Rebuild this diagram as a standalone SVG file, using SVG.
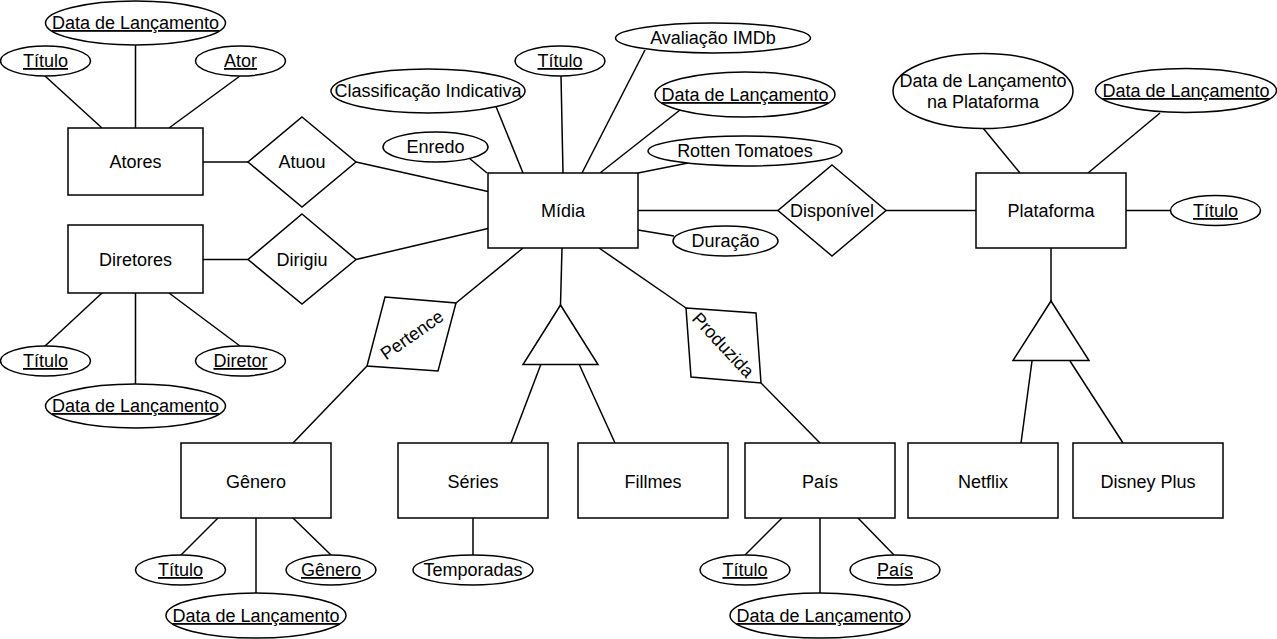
<svg xmlns="http://www.w3.org/2000/svg" width="1277" height="639" viewBox="0 0 1277 639">
<style>
.s{fill:#fff;stroke:#000;stroke-width:1.5}
.c line{stroke:#000;stroke-width:1.5}
text{font-family:"Liberation Sans",Arial,Helvetica,sans-serif;font-size:18px;fill:#000;text-anchor:middle}
.u{text-decoration:underline}
</style>
<rect width="1277" height="639" fill="#fff"/>
<g class="c" id="connectors">
<line x1="135.5" y1="45" x2="135.5" y2="128"/>
<line x1="45" y1="76" x2="102" y2="128"/>
<line x1="240" y1="76" x2="169" y2="128"/>
<line x1="102" y1="293" x2="45" y2="346"/>
<line x1="135.5" y1="293" x2="135.5" y2="384"/>
<line x1="169" y1="293" x2="240" y2="346"/>
<line x1="203" y1="162" x2="248" y2="162"/>
<line x1="203" y1="259.5" x2="248" y2="259.5"/>
<line x1="356" y1="162" x2="488" y2="191.5"/>
<line x1="356" y1="259.5" x2="488" y2="228.5"/>
<line x1="496" y1="106.5" x2="523" y2="173"/>
<line x1="561" y1="76" x2="563" y2="173"/>
<line x1="645" y1="50" x2="582" y2="173"/>
<line x1="680" y1="110" x2="600" y2="173"/>
<line x1="469" y1="158" x2="487" y2="173"/>
<line x1="688" y1="163" x2="638" y2="173"/>
<line x1="638" y1="230" x2="674" y2="236"/>
<line x1="638" y1="210.5" x2="778" y2="210.5"/>
<line x1="886" y1="210.5" x2="976" y2="210.5"/>
<line x1="983" y1="128" x2="1020" y2="173"/>
<line x1="1160" y1="113" x2="1088" y2="173"/>
<line x1="1126" y1="210.5" x2="1170" y2="210.5"/>
<line x1="1051" y1="248" x2="1051" y2="301"/>
<line x1="1032" y1="361" x2="1021" y2="443"/>
<line x1="1070" y1="361" x2="1123" y2="443"/>
<line x1="523" y1="248" x2="456" y2="303"/>
<line x1="367" y1="366" x2="293" y2="443"/>
<line x1="599" y1="248" x2="686" y2="308"/>
<line x1="761" y1="383" x2="820" y2="443"/>
<line x1="562" y1="248" x2="560.5" y2="305"/>
<line x1="541" y1="364" x2="511" y2="443"/>
<line x1="579" y1="364" x2="615" y2="443"/>
<line x1="218" y1="518" x2="181" y2="555"/>
<line x1="256" y1="518" x2="256" y2="593"/>
<line x1="293" y1="518" x2="331" y2="555"/>
<line x1="473" y1="518" x2="473" y2="555"/>
<line x1="782" y1="518" x2="745" y2="555"/>
<line x1="820" y1="518" x2="820" y2="593"/>
<line x1="858" y1="518" x2="894" y2="555"/>
</g>
<g id="atores"><rect class="s" x="68" y="128" width="135" height="67"/><text x="135.5" y="168">Atores</text></g>
<g id="diretores"><rect class="s" x="68" y="225" width="135" height="68"/><text x="135.5" y="266">Diretores</text></g>
<g id="midia"><rect class="s" x="488" y="173" width="150" height="75"/><text x="563" y="217">Mídia</text></g>
<g id="plataforma"><rect class="s" x="976" y="173" width="150" height="75"/><text x="1051" y="217">Plataforma</text></g>
<g id="genero"><rect class="s" x="181" y="443" width="150" height="75"/><text x="256" y="488">Gênero</text></g>
<g id="series"><rect class="s" x="398" y="443" width="150" height="75"/><text x="473" y="488">Séries</text></g>
<g id="fillmes"><rect class="s" x="578" y="443" width="150" height="75"/><text x="653" y="488">Fillmes</text></g>
<g id="pais"><rect class="s" x="745" y="443" width="150" height="75"/><text x="820" y="488">País</text></g>
<g id="netflix"><rect class="s" x="908" y="443" width="150" height="75"/><text x="983" y="488">Netflix</text></g>
<g id="disney"><rect class="s" x="1073" y="443" width="150" height="75"/><text x="1148" y="488">Disney Plus</text></g>
<g id="atuou"><polygon class="s" points="302,117 356,162 302,207 248,162"/><text x="302" y="168">Atuou</text></g>
<g id="dirigiu"><polygon class="s" points="302,214 356,259.5 302,304 248,259.5"/><text x="302" y="266">Dirigiu</text></g>
<g id="disponivel"><polygon class="s" points="832,165 886,210.5 832,256 778,210.5"/><text x="832" y="217">Disponível</text></g>
<g id="pertence"><polygon class="s" points="385,297 456,303 438,371 367,366"/><text transform="translate(412,335) rotate(-35)" y="6">Pertence</text></g>
<g id="produzida"><polygon class="s" points="686,308 756,313 761,383 691,377" /><text transform="translate(723,345) rotate(47)" y="6">Produzida</text></g>
<g id="heranca-midia"><polygon class="s" points="560.5,305 598,364.5 523,364.5"/></g>
<g id="heranca-plataforma"><polygon class="s" points="1051,301 1089,360.5 1013,360.5"/></g>
<g id="a-atores-data"><ellipse class="s" cx="135.5" cy="23" rx="90" ry="22"/><text class="u" x="135.5" y="29">Data de Lançamento</text></g>
<g id="a-atores-titulo"><ellipse class="s" cx="45.5" cy="61" rx="45" ry="15"/><text class="u" x="45.5" y="67">Título</text></g>
<g id="a-atores-ator"><ellipse class="s" cx="240.5" cy="61" rx="45" ry="15"/><text class="u" x="240.5" y="67">Ator</text></g>
<g id="a-dir-titulo"><ellipse class="s" cx="45.5" cy="361" rx="45" ry="15"/><text class="u" x="45.5" y="367">Título</text></g>
<g id="a-dir-data"><ellipse class="s" cx="135.5" cy="406" rx="90" ry="22"/><text class="u" x="135.5" y="412">Data de Lançamento</text></g>
<g id="a-dir-diretor"><ellipse class="s" cx="240.5" cy="361" rx="45" ry="15"/><text class="u" x="240.5" y="367">Diretor</text></g>
<g id="a-midia-class"><ellipse class="s" cx="428" cy="91" rx="97" ry="22"/><text x="428" y="97">Classificação Indicativa</text></g>
<g id="a-midia-titulo"><ellipse class="s" cx="560" cy="61" rx="45" ry="15"/><text class="u" x="560" y="67">Título</text></g>
<g id="a-midia-imdb"><ellipse class="s" cx="713" cy="38" rx="97.5" ry="15"/><text x="713" y="44">Avaliação IMDb</text></g>
<g id="a-midia-data"><ellipse class="s" cx="745" cy="94.5" rx="90" ry="22.5"/><text class="u" x="745" y="101">Data de Lançamento</text></g>
<g id="a-midia-enredo"><ellipse class="s" cx="435.5" cy="147" rx="52.5" ry="15"/><text x="435.5" y="153">Enredo</text></g>
<g id="a-midia-rotten"><ellipse class="s" cx="745" cy="151" rx="97" ry="15"/><text x="745" y="157">Rotten Tomatoes</text></g>
<g id="a-midia-duracao"><ellipse class="s" cx="725.5" cy="241" rx="52.5" ry="15"/><text x="725.5" y="247">Duração</text></g>
<g id="a-plat-datanaplat"><ellipse class="s" cx="983" cy="91" rx="90" ry="37.5"/><text x="983" y="87">Data de Lançamento</text><text x="983" y="108">na Plataforma</text></g>
<g id="a-plat-data"><ellipse class="s" cx="1186" cy="90.5" rx="90.5" ry="22"/><text class="u" x="1186" y="97">Data de Lançamento</text></g>
<g id="a-plat-titulo"><ellipse class="s" cx="1215.5" cy="210.5" rx="45" ry="15"/><text class="u" x="1215.5" y="217">Título</text></g>
<g id="a-gen-titulo"><ellipse class="s" cx="180.5" cy="570" rx="45" ry="15"/><text class="u" x="180.5" y="576">Título</text></g>
<g id="a-gen-genero"><ellipse class="s" cx="331" cy="570" rx="45" ry="15"/><text class="u" x="331" y="576">Gênero</text></g>
<g id="a-gen-data"><ellipse class="s" cx="256" cy="615.5" rx="90" ry="22.5"/><text class="u" x="256" y="622">Data de Lançamento</text></g>
<g id="a-series-temp"><ellipse class="s" cx="473" cy="570" rx="60" ry="15"/><text x="473" y="576">Temporadas</text></g>
<g id="a-pais-titulo"><ellipse class="s" cx="745" cy="570" rx="45" ry="15"/><text class="u" x="745" y="576">Título</text></g>
<g id="a-pais-pais"><ellipse class="s" cx="895" cy="570" rx="45" ry="15"/><text class="u" x="895" y="576">País</text></g>
<g id="a-pais-data"><ellipse class="s" cx="820" cy="615.5" rx="90" ry="22.5"/><text class="u" x="820" y="622">Data de Lançamento</text></g>
</svg>
